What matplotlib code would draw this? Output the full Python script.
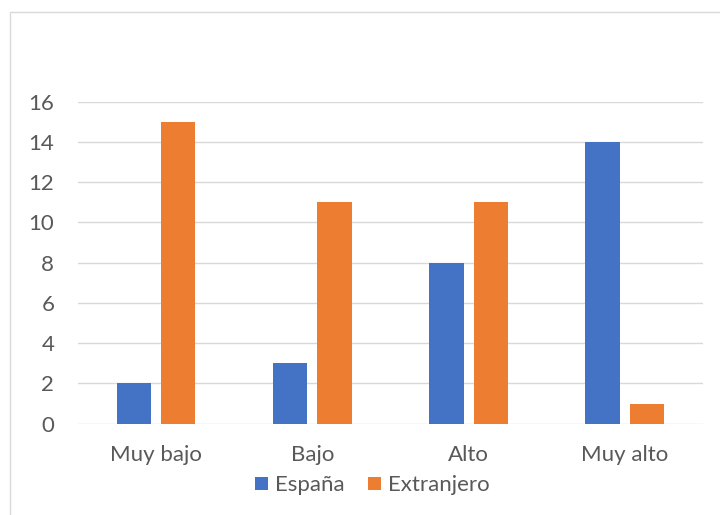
import numpy as np
import matplotlib.pyplot as plt
from matplotlib.patches import Rectangle

plt.rcParams['font.family'] = ['Lato', 'DejaVu Sans']

categorias = ['Muy bajo', 'Bajo', 'Alto', 'Muy alto']
espana = [2, 3, 8, 14]
extranjero = [15, 11, 11, 1]
yticks = [0, 2, 4, 6, 8, 10, 12, 14, 16]

azul = '#4472C4'
naranja = '#ED7D31'
gris_texto = '#595959'
gris_linea = '#D9D9D9'

fig = plt.figure(figsize=(7.2, 5.15), dpi=100)
ax = fig.add_axes([0.1083, 0.1773, 0.868, 0.6252])

x = np.arange(len(categorias))
ancho = 0.22
desp = 0.142
ax.bar(x - desp, espana, ancho, color=azul, label='España', zorder=3)
ax.bar(x + desp, extranjero, ancho, color=naranja, label='Extranjero', zorder=3)

ax.set_xlim(-0.5, len(categorias) - 0.5)
ax.set_ylim(0, 16)
ax.set_yticks(yticks)
ax.set_xticks(x)
ax.set_xticklabels(categorias)
ax.yaxis.grid(True, color=gris_linea, linewidth=1.0, zorder=0)
ax.set_axisbelow(True)
for s in ax.spines.values():
    s.set_visible(False)
ax.tick_params(axis='y', length=0, pad=17, labelsize=16, labelcolor=gris_texto)
ax.tick_params(axis='x', length=0, pad=15.5, labelsize=16, labelcolor=gris_texto)

# marco del área del gráfico
fig.patches.append(Rectangle((10 / 720, -0.1), 1.2, 0.9767 + 0.1,
                             transform=fig.transFigure, fill=False,
                             edgecolor=gris_linea, linewidth=1.0))

fig.legend(loc='center', bbox_to_anchor=(0.517, 0.058), ncol=2, frameon=False,
           fontsize=16, labelcolor=gris_texto, handlelength=0.585,
           handleheight=0.55, handletextpad=0.3, columnspacing=1.08)

fig.savefig('out.png', dpi=100)
